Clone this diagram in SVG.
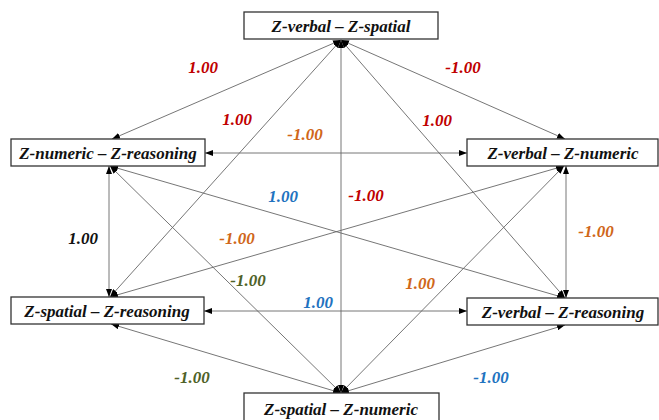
<svg xmlns="http://www.w3.org/2000/svg" width="659" height="420" viewBox="0 0 659 420">
<defs>
<marker id="ah" viewBox="0 0 8 6" refX="8" refY="3" markerWidth="8" markerHeight="6" markerUnits="userSpaceOnUse" orient="auto-start-reverse">
<path d="M0,0 L8,3 L0,6 Z" fill="#000"/>
</marker>
<style>
.box{fill:#fff;stroke:#333;stroke-width:1.3}
.nt{font-family:"Liberation Serif","Times New Roman",serif;font-weight:bold;font-style:italic;font-size:17px;fill:#111;text-anchor:middle}
.c{stroke:#666;stroke-width:0.9;fill:none;marker-start:url(#ah);marker-end:url(#ah)}
.lb{font-family:"Liberation Serif","Times New Roman",serif;font-weight:bold;font-style:italic;font-size:17px;text-anchor:middle}
.red{fill:#c00000}.org{fill:#d0671a}.blu{fill:#1f73c0}.grn{fill:#4f6228}.blk{fill:#111}
</style>
</defs>
<rect width="659" height="420" fill="#fff"/>
<g id="connectors">
<line class="c" x1="341" y1="40" x2="112" y2="139"/>
<line class="c" x1="341" y1="40" x2="565" y2="139"/>
<line class="c" x1="341" y1="40" x2="110" y2="297"/>
<line class="c" x1="341" y1="40" x2="565" y2="298"/>
<line class="c" x1="341" y1="40" x2="341" y2="393"/>
<line class="c" x1="341" y1="393" x2="110" y2="166"/>
<line class="c" x1="341" y1="393" x2="564" y2="166"/>
<line class="c" x1="341" y1="393" x2="111" y2="324"/>
<line class="c" x1="341" y1="393" x2="565" y2="325"/>
<line class="c" x1="205" y1="153" x2="467" y2="153"/>
<line class="c" x1="204" y1="311" x2="467" y2="311"/>
<line class="c" x1="109" y1="166" x2="109" y2="297"/>
<line class="c" x1="566" y1="166" x2="566" y2="298"/>
<line class="c" x1="110" y1="166" x2="565" y2="298"/>
<line class="c" x1="564" y1="166" x2="110" y2="297"/>
</g>
<g id="labels">
<text class="lb red" x="203" y="73">1.00</text>
<text class="lb red" x="463" y="73">-1.00</text>
<text class="lb red" x="237" y="125">1.00</text>
<text class="lb org" x="305" y="140">-1.00</text>
<text class="lb red" x="437" y="126">1.00</text>
<text class="lb blu" x="283" y="202">1.00</text>
<text class="lb red" x="366" y="201">-1.00</text>
<text class="lb blk" x="83" y="244">1.00</text>
<text class="lb org" x="237" y="244">-1.00</text>
<text class="lb org" x="596" y="237">-1.00</text>
<text class="lb grn" x="248" y="286">-1.00</text>
<text class="lb org" x="420" y="289">1.00</text>
<text class="lb blu" x="318" y="308">1.00</text>
<text class="lb grn" x="192" y="383">-1.00</text>
<text class="lb blu" x="491" y="383">-1.00</text>
</g>
<g id="n-top"><rect class="box" x="244" y="12" width="194" height="27"/><text class="nt" x="341" y="32">Z-verbal – Z-spatial</text></g>
<g id="n-lt"><rect class="box" x="11" y="139" width="194" height="27"/><text class="nt" x="108" y="159">Z-numeric – Z-reasoning</text></g>
<g id="n-rt"><rect class="box" x="467" y="139" width="191" height="27"/><text class="nt" x="563" y="159">Z-verbal – Z-numeric</text></g>
<g id="n-lb"><rect class="box" x="11" y="297" width="193" height="27"/><text class="nt" x="107" y="317">Z-spatial – Z-reasoning</text></g>
<g id="n-rb"><rect class="box" x="467" y="298" width="191" height="27"/><text class="nt" x="563" y="318">Z-verbal – Z-reasoning</text></g>
<g id="n-bot"><rect class="box" x="244" y="393" width="195" height="30"/><text class="nt" x="341" y="415">Z-spatial – Z-numeric</text></g>
</svg>
